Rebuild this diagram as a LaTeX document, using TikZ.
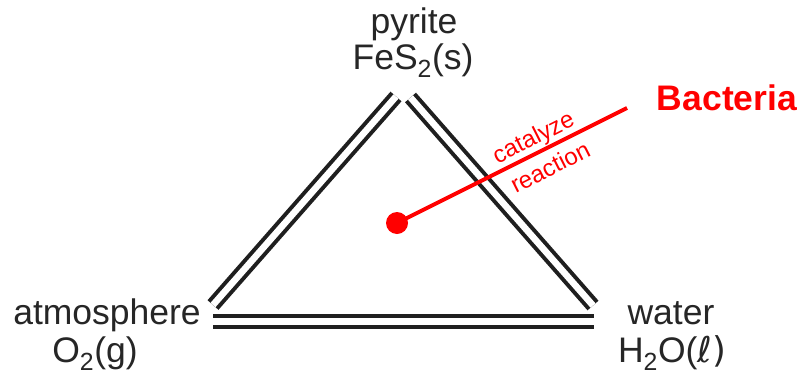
\documentclass[tikz,border=0pt]{standalone}
\usepackage{fontspec}
\setmainfont{Liberation Sans}
\newfontfamily\symfont{DejaVu Sans}
\begin{document}
\begin{tikzpicture}[x=1pt,y=-1pt,
  lbl/.style={inner sep=0pt,anchor=base,font=\fontsize{35.5}{40}\selectfont,text=black!85},
  side/.style={draw=black!88,line width=4pt,double=white,double distance=6.6pt},
  redtxt/.style={inner sep=0pt,text=red,font=\fontsize{24}{28}\selectfont,rotate=26.8}
]
\useasboundingbox (0,0) rectangle (802,375);
% labels
\node[lbl] (pyr) at (414,33) {pyrite};
\node[lbl] (fes) at (413,69) {FeS\textsubscript{2}(s)};
\node[lbl] (atm) at (107,324) {atmosphere};
\node[lbl] (oxy) at (95,362) {O\textsubscript{2}(g)};
\node[lbl] (wat) at (671,324) {water};
\node[lbl] (wtr) at (672,362) {H\textsubscript{2}O(\symfont ℓ)};
\node[inner sep=0pt,anchor=base,text=red,font=\fontsize{35.5}{40}\selectfont\bfseries] (bac) at (727,110) {Bacteria};
% triangle corners of the double lines
\coordinate (L1) at (213,305);
\coordinate (L2) at (396,96.5);
\coordinate (R1) at (410.5,97.5);
\coordinate (R2) at (593,305.5);
\coordinate (B1) at (213,321.5);
\coordinate (B2) at (594,321.5);
\draw[side] (L1) -- (L2);
\draw[side] (R1) -- (R2);
\draw[side] (B1) -- (B2);
% bacteria pointer
\coordinate (dot) at (397,223);
\coordinate (tip) at (627,108);
\draw[red,line width=4pt] (dot) -- (tip);
\fill[red] (dot) circle (11);
\node[redtxt] (cat) at (534,139) {catalyze};
\node[redtxt] (rea) at (550,167) {reaction};
\end{tikzpicture}
\end{document}
